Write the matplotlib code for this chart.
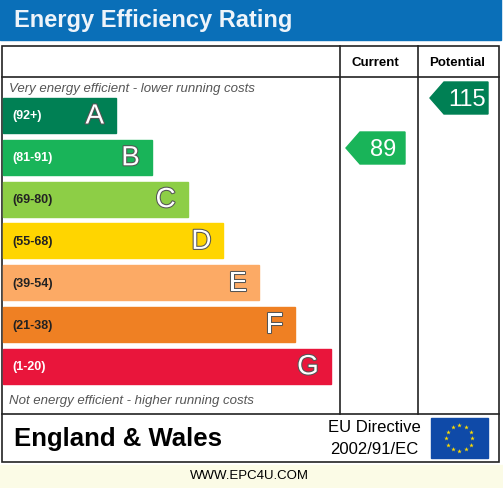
import matplotlib.pyplot as plt
import matplotlib.patheffects as pe
from matplotlib.patches import Rectangle, Polygon
import numpy as np

letters = ['A', 'B', 'C', 'D', 'E', 'F', 'G']
ranges = ['(92+)', '(81-91)', '(69-80)', '(55-68)', '(39-54)', '(21-38)', '(1-20)']
colors = ['#008054', '#19b459', '#8dce46', '#ffd500', '#fcaa65', '#ef8023', '#e9153b']
current = 89
potential = 115

def band_of(v):
    lows = [92, 81, 69, 55, 39, 21, 1]
    for i, lo in enumerate(lows):
        if v >= lo:
            return i
    return 6

fig = plt.figure(figsize=(5.03, 4.89), dpi=100)
ax = fig.add_axes([0, 0, 1, 1])
ax.set_xlim(0, 503)
ax.set_ylim(489, 0)
ax.axis('off')
fig.patch.set_facecolor('white')

ax.add_patch(Rectangle((0, 466), 503, 23, color='#fbfbe6', zorder=0))
# title bar
ax.add_patch(Rectangle((0, 0), 501, 41, color='#0a6fb8'))
ax.text(14, 21, 'Energy Efficiency Rating', color='#eef4fa', fontsize=17,
        fontweight='bold', va='center', family='Liberation Sans')

# frame
lw = 1.2
ax.add_patch(Rectangle((2, 47), 497, 416, fill=False, lw=lw, ec='#222'))
ax.plot([2, 499], [78, 78], color='#222', lw=lw)
ax.plot([2, 499], [415, 415], color='#222', lw=lw)
ax.plot([340, 340], [47, 415], color='#222', lw=lw)
ax.plot([418, 418], [47, 415], color='#222', lw=lw)
ax.text(375, 63, 'Current', ha='center', va='center', fontsize=9.5, fontweight='bold', family='Liberation Sans')
ax.text(457, 63, 'Potential', ha='center', va='center', fontsize=9.5, fontweight='bold', family='Liberation Sans')
ax.text(9, 89, 'Very energy efficient - lower running costs', fontsize=9.5, style='italic',
        color='#555', va='center', family='Liberation Sans')
ax.text(9, 401, 'Not energy efficient - higher running costs', fontsize=9.5, style='italic',
        color='#555', va='center', family='Liberation Sans')

top0, step, h = 99, 41.8, 35
for i, (L, r, c) in enumerate(zip(letters, ranges, colors)):
    y = top0 + i * step
    right = 116 + i * 35.8
    ax.add_patch(Rectangle((3, y), right - 3, h, color=c))
    tc = 'white' if i in (0, 1, 6) else '#222'
    ax.text(12, y + h / 2, r, fontsize=9, fontweight='bold', color=tc, va='center', family='Liberation Sans')
    ax.text(right - 12, y + h / 2 + 1, L, fontsize=20, color='white',
            ha='right', va='center', family='Liberation Sans',
            path_effects=[pe.withStroke(linewidth=1.5, foreground='#555')])

def arrow(x0, x1, y0, val):
    c = colors[band_of(val)]
    hh = 32
    ax.add_patch(Polygon([(x0, y0 + hh / 2), (x0 + 14, y0), (x1, y0), (x1, y0 + hh), (x0 + 14, y0 + hh)],
                         color=c))
    ax.text((x0 + 14 + x1) / 2 + 1, y0 + hh / 2 + 1, str(val), color='white', fontsize=17,
            ha='center', va='center', family='Liberation Sans')

arrow(346, 405, 133, current)
arrow(430, 488, 83, potential)

# footer
ax.text(14, 439, 'England & Wales', fontsize=18.5, fontweight='bold', va='center', family='Liberation Sans')
ax.text(374, 428, 'EU Directive', fontsize=12, ha='center', va='center', family='Liberation Sans')
ax.text(374, 449, '2002/91/EC', fontsize=12, ha='center', va='center', family='Liberation Sans')
ax.add_patch(Rectangle((431, 419), 57, 40, color='#0f4aa8'))
ang = np.linspace(0, 2 * np.pi, 12, endpoint=False)
ax.scatter(459.5 + 13 * np.cos(ang), 439 + 13 * np.sin(ang), marker='*', s=12, color='#ffdd00', lw=0)
ax.text(249, 476, 'WWW.EPC4U.COM', fontsize=9.5, ha='center', va='center', family='Liberation Sans')

fig.savefig('out.png', dpi=100)
